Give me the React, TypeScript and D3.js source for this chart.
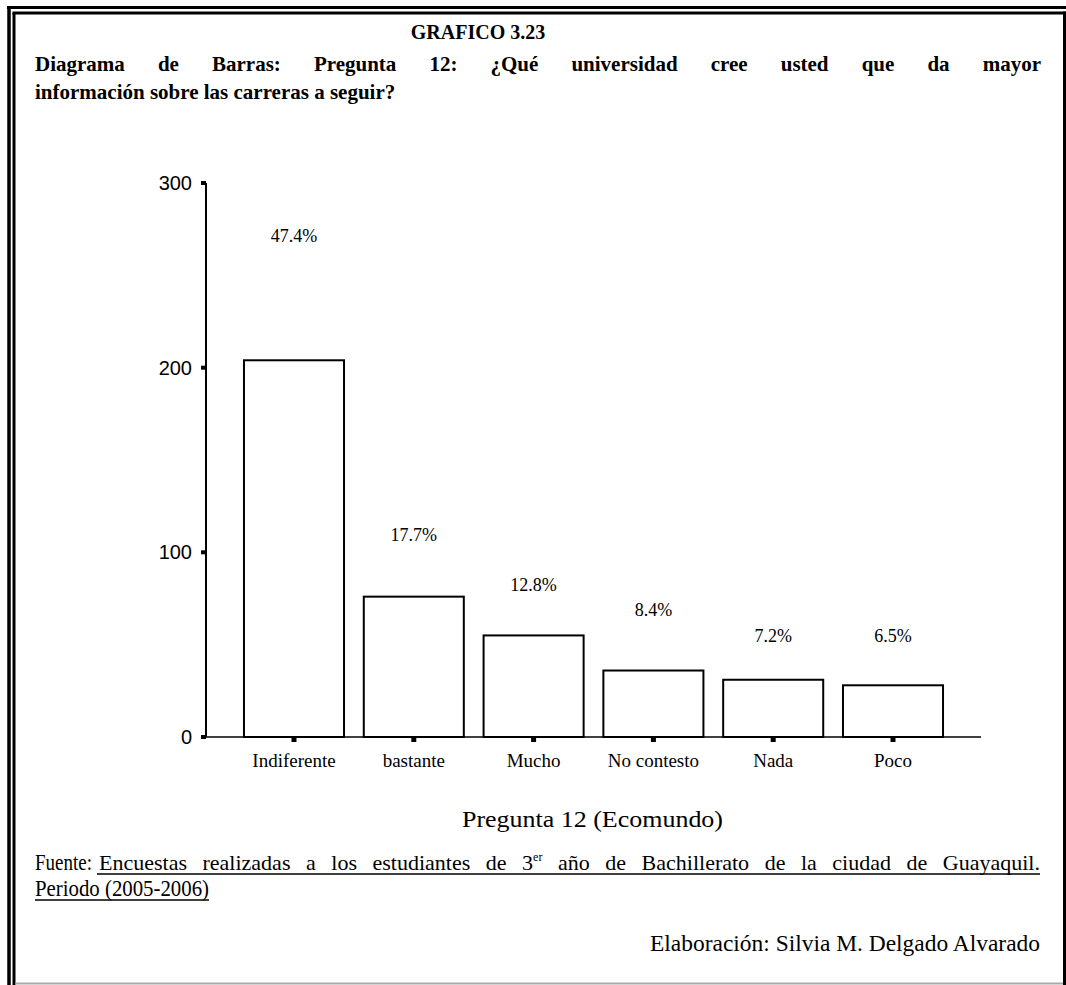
import React, { useLayoutEffect, useRef } from "react";
import * as d3 from "d3";

const categories = ["Indiferente", "bastante", "Mucho", "No contesto", "Nada", "Poco"];
const counts = [204, 76, 55, 36, 31, 28];
const percentLabels = ["47.4%", "17.7%", "12.8%", "8.4%", "7.2%", "6.5%"];
const labelLevels = [268, 106, 79, 65.5, 51.4, 51.4];
const yTicks = [0, 100, 200, 300];

const SERIF = "'Liberation Serif', 'Times New Roman', serif";
const SANS = "'Liberation Sans', Arial, sans-serif";

function justify(el: SVGTextElement | null, target: number) {
  if (!el) return;
  el.setAttribute("word-spacing", "0");
  const len = el.getComputedTextLength();
  const spaces = (el.textContent || "").split(" ").length - 1;
  if (spaces > 0) el.setAttribute("word-spacing", String(Math.max(0, (target - len) / spaces)));
}

export default function App() {
  const W = 1066;
  const H = 985;
  const titleRef = useRef<SVGTextElement>(null);
  const fuenteRef = useRef<SVGTextElement>(null);

  useLayoutEffect(() => {
    justify(titleRef.current, 1041 - 35);
    justify(fuenteRef.current, 1040 - 99);
  }, []);

  const x = d3
    .scaleBand<string>()
    .domain(categories)
    .range([206, 981])
    .paddingInner(0.165)
    .paddingOuter(0.317);
  const y = d3.scaleLinear().domain([0, 300]).range([737, 183]);
  const bw = x.bandwidth();

  return (
    <svg
      width={W}
      height={H}
      style={{ position: "absolute", left: 0, top: 0, background: "#fff" }}
    >
      <rect x={0} y={0} width={W} height={H} fill="#fff" />
      {/* double frame */}
      <line x1={9} y1={6} x2={9} y2={H} stroke="#000" strokeWidth={3.5} />
      <line x1={7} y1={7.5} x2={W} y2={7.5} stroke="#000" strokeWidth={3} />
      <line x1={14} y1={13} x2={14} y2={H} stroke="#000" strokeWidth={3} />
      <line x1={12.5} y1={13} x2={W} y2={13} stroke="#000" strokeWidth={3} />
      <line x1={1064.5} y1={11.5} x2={1064.5} y2={H} stroke="#000" strokeWidth={3} />
      <line x1={15.5} y1={983.5} x2={1063} y2={983.5} stroke="#aaa" strokeWidth={2} />

      {/* titles */}
      <text x={478} y={39} textAnchor="middle" fontFamily={SERIF} fontWeight="bold" fontSize={20}>
        GRAFICO 3.23
      </text>
      <text ref={titleRef} x={35} y={71} fontFamily={SERIF} fontWeight="bold" fontSize={21}>
        Diagrama de Barras: Pregunta 12: ¿Qué universidad cree usted que da mayor
      </text>
      <text x={35} y={99} fontFamily={SERIF} fontWeight="bold" fontSize={21}>
        información sobre las carreras a seguir?
      </text>

      {/* y axis */}
      <line x1={206} y1={y(0)} x2={206} y2={y(300)} stroke="#000" strokeWidth={2} />
      {yTicks.map((t) => (
        <g key={t}>
          <rect x={201} y={y(t) - 2} width={5} height={4} fill="#000" />
          <text x={192} y={y(t) + 7} textAnchor="end" fontFamily={SANS} fontSize={20}>
            {t}
          </text>
        </g>
      ))}

      {/* bars */}
      {categories.map((c, i) => (
        <rect
          key={c}
          x={x(c)}
          y={y(counts[i])}
          width={bw}
          height={y(0) - y(counts[i])}
          fill="#fff"
          stroke="#000"
          strokeWidth={2}
        />
      ))}

      {/* x axis */}
      <line x1={205} y1={y(0)} x2={981} y2={y(0)} stroke="#000" strokeWidth={1.5} />
      {categories.map((c) => (
        <g key={c}>
          <rect x={(x(c) as number) + bw / 2 - 2.5} y={y(0)} width={5} height={5} fill="#000" />
          <text
            x={(x(c) as number) + bw / 2}
            y={767}
            textAnchor="middle"
            fontFamily={SERIF}
            fontSize={19}
          >
            {c}
          </text>
        </g>
      ))}

      {/* percent labels */}
      {categories.map((c, i) => (
        <text
          key={c}
          x={(x(c) as number) + bw / 2}
          y={y(labelLevels[i])}
          textAnchor="middle"
          fontFamily={SERIF}
          fontSize={18}
        >
          {percentLabels[i]}
        </text>
      ))}

      {/* x axis title */}
      <text x={462} y={827} textLength={261} lengthAdjust="spacingAndGlyphs" fontFamily={SERIF} fontSize={23}>
        Pregunta 12 (Ecomundo)
      </text>

      {/* footer */}
      <text x={35} y={870} textLength={57} lengthAdjust="spacingAndGlyphs" fontFamily={SERIF} fontSize={23}>
        Fuente:
      </text>
      <text ref={fuenteRef} x={99} y={870} fontFamily={SERIF} fontSize={22}>
        Encuestas realizadas a los estudiantes de 3
        <tspan fontSize={12} dy={-9}>er</tspan>
        <tspan dy={9}> año de Bachillerato de la ciudad de Guayaquil.</tspan>
      </text>
      <line x1={97} y1={874} x2={1040} y2={874} stroke="#000" strokeWidth={1.3} />
      <text x={35} y={896} textLength={174} lengthAdjust="spacingAndGlyphs" fontFamily={SERIF} fontSize={23}>
        Periodo (2005-2006)
      </text>
      <line x1={35} y1={900} x2={209} y2={900} stroke="#000" strokeWidth={1.3} />
      <text x={650} y={951} textLength={390} lengthAdjust="spacingAndGlyphs" fontFamily={SERIF} fontSize={23}>
        Elaboración: Silvia M. Delgado Alvarado
      </text>
    </svg>
  );
}
